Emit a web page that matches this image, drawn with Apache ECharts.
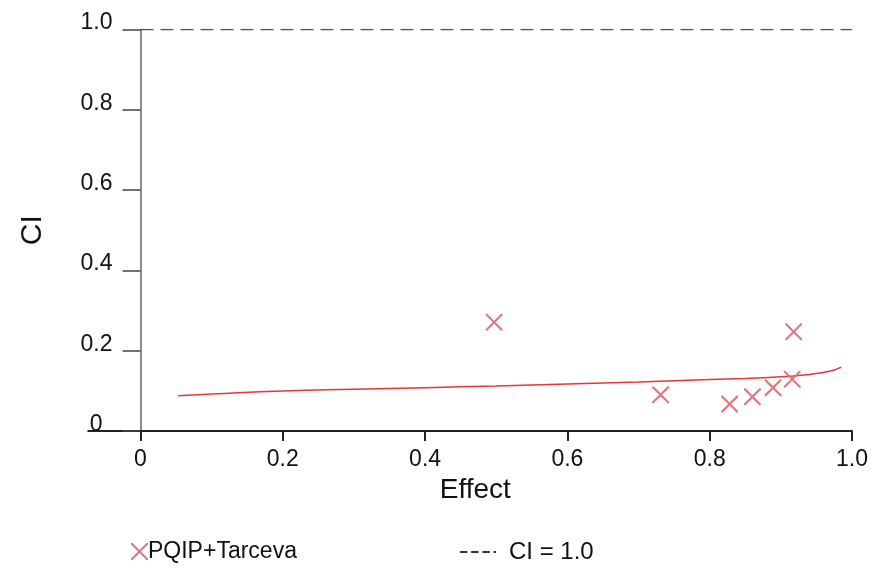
<!DOCTYPE html>
<html>
<head>
<meta charset="utf-8">
<script src="https://cdn.jsdelivr.net/npm/echarts@6/dist/echarts.min.js"></script>
<style>html,body{margin:0;padding:0;background:#fff}#c{width:876px;height:568px}</style>
</head>
<body>
<div id="c"></div>
<script>
// Data
const scatterName = 'PQIP+Tarceva';
const scatterEffect = [0.497, 0.731, 0.828, 0.860, 0.889, 0.916, 0.918];
const scatterCI     = [0.271, 0.090, 0.067, 0.085, 0.108, 0.129, 0.247];
const curveEffect = [0.053, 0.1, 0.2, 0.3, 0.4, 0.5, 0.6, 0.7, 0.8, 0.85, 0.9, 0.94, 0.96, 0.975, 0.985];
const curveCI     = [0.088, 0.092, 0.0996, 0.104, 0.108, 0.112, 0.117, 0.122, 0.128, 0.131, 0.135, 0.141, 0.146, 0.152, 0.159];
const refName = 'CI = 1.0';
const refEffect = [0, 1];
const refCI = [1, 1];
const xTicks = [0, 0.2, 0.4, 0.6, 0.8, 1.0];
const yTicks = [0, 0.2, 0.4, 0.6, 0.8, 1.0];

const FONT = 'Liberation Sans, Arial, sans-serif';
const crossPath = 'path://M0,0L0.9,0L5,4.1L9.1,0L10,0L10,0.9L5.9,5L10,9.1L10,10L9.1,10L5,5.9L0.9,10L0,10L0,9.1L4.1,5L0,0.9Z';
const dashIcon = 'path://M0,0h6v1.6H0zM9,0h6v1.6H9zM18,0h6v1.6h-6zM27,0h2v1.6h-2z';
const fmt = v => (v === 0 ? '0' : v.toFixed(1));

const chart = echarts.init(document.getElementById('c'), null, {renderer: 'canvas'});
const option = {
  animation: false,
  backgroundColor: '#fff',
  grid: {left: 140.5, right: 24, top: 29.5, bottom: 137, containLabel: false, outerBoundsMode: 'none'},
  xAxis: {
    type: 'value', min: xTicks[0], max: xTicks[xTicks.length - 1], interval: 0.2,
    name: 'Effect', nameLocation: 'middle', nameGap: 36,
    nameTextStyle: {fontFamily: FONT, fontSize: 28, color: '#111', padding: [0, 42, 0, 0]},
    axisLine: {show: true, onZero: false, lineStyle: {color: '#222', width: 2}},
    axisTick: {show: true, inside: false, length: 10, lineStyle: {color: '#222', width: 2}},
    axisLabel: {margin: 17, fontFamily: FONT, fontSize: 23, color: '#111', formatter: fmt},
    splitLine: {show: false}
  },
  yAxis: {
    type: 'value', min: yTicks[0], max: yTicks[yTicks.length - 1], interval: 0.2,
    name: 'CI', nameLocation: 'middle', nameGap: 93, nameRotate: 90,
    nameTextStyle: {fontFamily: FONT, fontSize: 30, color: '#111'},
    axisLine: {show: true, onZero: false, lineStyle: {color: '#666', width: 1.5}},
    axisTick: {show: true, inside: false, length: 18, lineStyle: {color: '#444', width: 1.5}},
    axisLabel: {
      margin: 28, fontFamily: FONT, fontSize: 23, color: '#111',
      verticalAlign: 'bottom', lineHeight: 13,
      formatter: v => (v === 0 ? '{z|0}' : v.toFixed(1)),
      rich: {z: {fontFamily: FONT, fontSize: 23, color: '#111', padding: [0, 10, 0, 0], lineHeight: 13}}
    },
    splitLine: {show: false}
  },
  legend: [
    {
      left: 126, top: 535, itemWidth: 17, itemHeight: 17, itemGap: 0,
      data: [{name: scatterName, icon: crossPath}],
      textStyle: {fontFamily: FONT, fontSize: 23, color: '#111', padding: [0, 0, 0, -5]},
      selectedMode: false
    },
    {
      left: 455, top: 535, itemWidth: 36, itemHeight: 2, itemGap: 0,
      data: [{name: refName, icon: dashIcon}],
      itemStyle: {color: '#333', borderWidth: 0},
      lineStyle: {width: 0},
      textStyle: {fontFamily: FONT, fontSize: 24, color: '#111', padding: [0, 0, 0, 8]},
      selectedMode: false
    }
  ],
  series: [
    {
      name: 'curve', type: 'line', showSymbol: false, symbol: 'none', smooth: true,
      data: curveEffect.map((x, i) => [x, curveCI[i]]),
      lineStyle: {color: '#e8353b', width: 1.5}, z: 2
    },
    {
      name: scatterName, type: 'scatter', symbol: crossPath, symbolSize: 17,
      data: scatterEffect.map((x, i) => [x, scatterCI[i]]),
      itemStyle: {color: '#e27782', opacity: 1}, z: 3
    },
    {
      name: refName, type: 'line', showSymbol: false, symbol: 'none',
      data: refEffect.map((x, i) => [x, refCI[i]]),
      lineStyle: {color: '#555', width: 1.5, type: [13, 7]},
      itemStyle: {color: '#444'}, z: 1
    }
  ]
};
chart.setOption(option);

// extend the zero baseline to the left under the "0" label (axis decoration)
const p0 = chart.convertToPixel({gridIndex: 0}, [0, 0]);
chart.setOption({
  graphic: [{
    type: 'line', silent: true,
    shape: {x1: p0[0] - 53, y1: p0[1], x2: p0[0], y2: p0[1]},
    style: {stroke: '#222', lineWidth: 2}
  }]
});
</script>
</body>
</html>
